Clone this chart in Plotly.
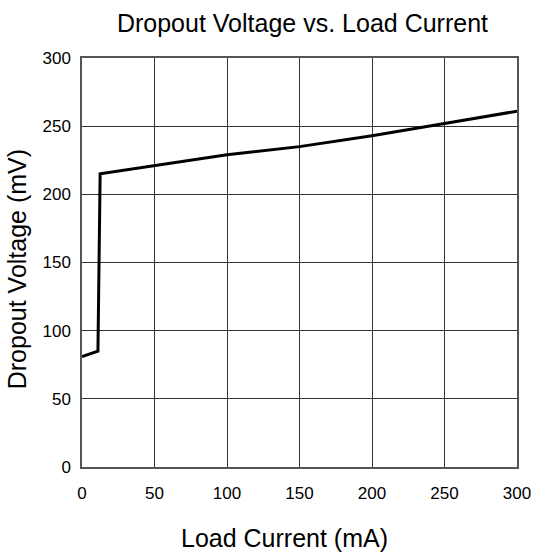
import plotly.graph_objects as go

load_current = [0, 11, 12.5, 50, 100, 150, 200, 250, 300]
dropout_mv = [81, 85, 215, 221, 229, 235, 243, 252, 261]

x_ticks = [0, 50, 100, 150, 200, 250, 300]
y_ticks = [0, 50, 100, 150, 200, 250, 300]

fig = go.Figure()
fig.add_trace(go.Scatter(x=load_current, y=dropout_mv, mode="lines",
                         line=dict(color="black", width=3), showlegend=False))

font = "Liberation Sans, Arial, sans-serif"
fig.update_layout(
    width=533, height=557,
    margin=dict(l=82, r=16, t=58, b=90, autoexpand=False),
    paper_bgcolor="white", plot_bgcolor="white",
    font=dict(family=font, color="black", size=17),
    title=dict(text="Dropout Voltage vs. Load Current", x=0.5675, xref="container",
               xanchor="center", y=0.958, yref="container", yanchor="middle",
               font=dict(size=25, family=font, color="black")),
    annotations=[
        dict(text="Load Current (mA)", xref="paper", yref="paper", x=0.4647, y=0,
             xanchor="center", yanchor="middle", yshift=-71, showarrow=False,
             font=dict(size=25, family=font, color="black")),
        dict(text="Dropout Voltage (mV)", xref="paper", yref="paper", x=0, y=0.4834,
             xanchor="center", yanchor="middle", xshift=-65, textangle=-90,
             showarrow=False, font=dict(size=25, family=font, color="black")),
    ],
)
fig.update_xaxes(range=[0, 300], tickvals=x_ticks, showgrid=True, gridcolor="#333",
                 gridwidth=1, zeroline=False, showline=True, linecolor="#555", linewidth=1.5,
                 mirror=True, ticks="", tickfont=dict(size=17), ticklabelstandoff=10)
fig.update_yaxes(range=[0, 300], tickvals=y_ticks, showgrid=True, gridcolor="#333",
                 gridwidth=1, zeroline=False, showline=True, linecolor="#555", linewidth=1.5,
                 mirror=True, ticks="", tickfont=dict(size=17), ticklabelstandoff=6)

fig.write_html("out.html", config={"displayModeBar": False},
               post_script="document.body.style.margin='0';document.body.style.overflow='hidden';")
